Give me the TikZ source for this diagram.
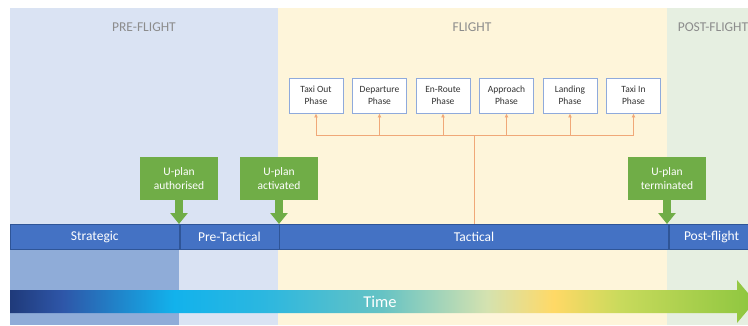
\documentclass[tikz,border=0pt]{standalone}
\usepackage{fontspec}
\setmainfont{Carlito}
\usetikzlibrary{
  positioning,
  calc,
  arrows.meta
}
\definecolor{preflightbg}{HTML}{DAE3F3}
\definecolor{flightbg}{HTML}{FEF5DA}
\definecolor{postflightbg}{HTML}{E6EFE1}
\definecolor{strategicbg}{HTML}{8FACD8}
\definecolor{barblue}{HTML}{4472C4}
\definecolor{bardark}{HTML}{2F5597}
\definecolor{uplangreen}{HTML}{70AD47}
\definecolor{phaseedge}{HTML}{8FAADC}
\definecolor{phaseorange}{HTML}{F0A878}
\definecolor{labelgrey}{HTML}{8C8C8C}
% colours of the time arrow
\definecolor{tdark}{HTML}{1F3A7A}
\definecolor{tnavy}{HTML}{2E56A8}
\definecolor{tcyan}{HTML}{12B2EC}
\definecolor{tteal}{HTML}{66C3C4}
\definecolor{tpale}{HTML}{D4E2B0}
\definecolor{tyellow}{HTML}{FFD966}
\definecolor{tlime}{HTML}{C8DA5C}
\definecolor{tgreen}{HTML}{8DC63F}
\pgfdeclarehorizontalshading{timeshade}{100bp}{color(0bp)=(tdark); color(25bp)=(tdark);
  color(28.5bp)=(tnavy); color(36bp)=(tcyan); color(42bp)=(tcyan!70!tteal);
  color(50bp)=(tteal); color(57bp)=(tpale); color(61.5bp)=(tyellow);
  color(66bp)=(tlime); color(75bp)=(tgreen); color(100bp)=(tgreen)}
\tikzset{>=latex}
\tikzset{
  phaselabel/.style={text=labelgrey, font=\fontsize{13.5}{15}\selectfont},
  phasebox/.style={draw=phaseedge, fill=white, line width=0.9pt,
    minimum width=54, minimum height=35, inner sep=1pt, align=center,
    text=black!80, font=\fontsize{9.5}{12}\selectfont},
  phaselink/.style={draw=phaseorange, line width=0.9pt},
  barseg/.style={draw=bardark, fill=barblue, line width=0.6pt, minimum height=25,
    inner sep=0pt, anchor=north west, text=white, font=\fontsize{13.5}{15}\selectfont},
  uplanbox/.style={fill=uplangreen, minimum width=78, minimum height=43,
    inner sep=1pt, align=center, text=white, font=\fontsize{11.5}{14}\selectfont},
  uplanarrow/.style={draw=uplangreen, line width=7.5pt,
    -{Triangle[width=17pt, length=11pt]}}
}

\begin{document}
\begin{tikzpicture}[x=1pt, y=-1pt]
  \useasboundingbox (0,0) rectangle (748,325);
  \clip (0,0) rectangle (748,325);
  % backgrounds
  \fill[preflightbg] (10,8) rectangle (278,325);
  \fill[flightbg] (278,8) rectangle (667,325);
  \fill[postflightbg] (667,8) rectangle (748,325);
  \fill[strategicbg] (10,249) rectangle (179,325);
  \node[phaselabel] (pre) at (144,27) {PRE-FLIGHT};
  \node[phaselabel] (fl) at (472,27) {FLIGHT};
  \node[phaselabel] (post) at (713,27) {POST-FLIGHT};

  % timeline bar
  \node[barseg, minimum width=169] (strategic) at (10,224) {Strategic};
  \node[barseg, minimum width=99] (pretactical) at (strategic.north east) {Pre-Tactical};
  \node[barseg, minimum width=389] (tactical) at (pretactical.north east) {Tactical};
  \node[barseg, minimum width=85] (postflight) at (tactical.north east) {Post-flight};

  % flight phases
  \foreach \name/\txt [count=\i from 0] in {taxiout/{Taxi Out\\Phase},
      departure/{Departure\\Phase}, enroute/{En-Route\\Phase},
      approach/{Approach\\Phase}, landing/{Landing\\Phase}, taxiin/{Taxi In\\Phase}}
    \node[phasebox] (\name) at (316+63.5*\i, 95.5) {\txt};
  \coordinate (hub) at (tactical.north |- 0,135);
  \draw[phaselink] (taxiout.south |- hub) -- (taxiin.south |- hub);
  \draw[phaselink] (hub) -- (tactical.north);
  \foreach \name in {taxiout, departure, enroute, approach, landing, taxiin}
    \draw[phaselink, -{Latex[length=4pt, width=4pt]}] (\name.south |- hub) -- (\name.south);

  % U-plan events
  \node[uplanbox] (authorised) at (179,178.5) {U-plan\\authorised};
  \node[uplanbox] (activated) at (279,178.5) {U-plan\\activated};
  \node[uplanbox] (terminated) at (667,178.5) {U-plan\\terminated};
  \draw[uplanarrow] (authorised.south) -- (authorised.south |- strategic.north);
  \draw[uplanarrow] (activated.south) -- (activated.south |- strategic.north);
  \draw[uplanarrow] (terminated.south) -- (terminated.south |- strategic.north);

  % time arrow
  \shade[shading=timeshade] (10,290) -- (737,290) -- (737,280) -- (755,301.5)
    -- (737,323) -- (737,313) -- (10,313) -- cycle;
  \node[text=white, font=\fontsize{16.5}{18}\selectfont] (time) at (380,301.5) {Time};
\end{tikzpicture}
\end{document}
